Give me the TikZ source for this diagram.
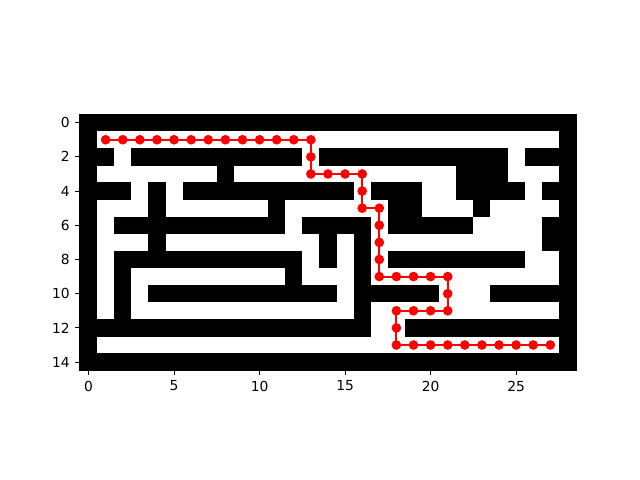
\documentclass[tikz,border=0pt]{standalone}
\usepackage{fontspec}
\setmainfont{DejaVu Sans}
\usetikzlibrary{calc}
\tikzstyle{wall}=[fill=black]
\tikzstyle{dot}=[shape=circle, minimum size=7pt, inner sep=0, fill=red]
\tikzstyle{route}=[draw=red, line width=1.5pt, line join=round]
\tikzstyle{tck}=[line width=0.8pt]
\tikzstyle{lbl}=[font=\fontsize{10}{12}\selectfont, inner sep=0]

\begin{document}
\begin{tikzpicture}[x=0.43442cm, y=-0.43442cm]
\useasboundingbox (-5.1775,-7.171) rectangle (32.243,20.894);
\fill[white] (-0.5,-0.5) rectangle (28.5,14.5);
%
% walls: row/first/last column of each black run
\foreach \r/\a/\b in {0/0/28,
    1/0/0, 1/28/28,
    2/0/1, 2/3/12, 2/14/24, 2/26/28,
    3/0/0, 3/8/8, 3/22/24, 3/28/28,
    4/0/2, 4/4/4, 4/6/15, 4/17/19, 4/22/25, 4/27/28,
    5/0/0, 5/4/4, 5/11/11, 5/18/19, 5/23/23, 5/28/28,
    6/0/0, 6/2/11, 6/13/16, 6/18/22, 6/27/28,
    7/0/0, 7/4/4, 7/14/14, 7/16/16, 7/27/28,
    8/0/0, 8/2/12, 8/14/14, 8/16/16, 8/18/25, 8/28/28,
    9/0/0, 9/2/2, 9/12/12, 9/16/16, 9/28/28,
    10/0/0, 10/2/2, 10/4/14, 10/16/20, 10/24/28,
    11/0/0, 11/2/2, 11/16/16, 11/28/28,
    12/0/16, 12/19/28,
    13/0/0, 13/28/28,
    14/0/28}
    {
	\fill[wall] (\a-0.5,\r-0.51) rectangle (\b+0.5,\r+0.51);}
%
\draw[tck] (-0.5,-0.5) rectangle (28.5,14.5);
\foreach \x in {0,5,...,25}
    \draw[tck] (\x,14.5) -- ++(0,-3.5pt) node[lbl, below=3.5pt] (xl\x) {\x};
\foreach \y in {0,2,...,14}
    \draw[tck] (-0.5,\y) -- ++(-3.5pt,0) node[lbl, left=3.5pt] (yl\y) {\y};
%
% solution path
\foreach \x/\y [count=\i] in {1/1,2/1,3/1,4/1,5/1,6/1,7/1,8/1,9/1,10/1,11/1,12/1,13/1,
    13/2,13/3,14/3,15/3,16/3,16/4,16/5,17/5,17/6,17/7,17/8,17/9,
    18/9,19/9,20/9,21/9,21/10,21/11,20/11,19/11,18/11,18/12,18/13,
    19/13,20/13,21/13,22/13,23/13,24/13,25/13,26/13,27/13}
    \coordinate (p\i) at (\x,\y);
\foreach \i [remember=\i as \j (initially 1)] in {2,...,45}
    \draw[route] (p\j) -- (p\i);
\foreach \i in {1,...,45}
    \node[dot] (d\i) at (p\i) {};
\end{tikzpicture}
\end{document}
